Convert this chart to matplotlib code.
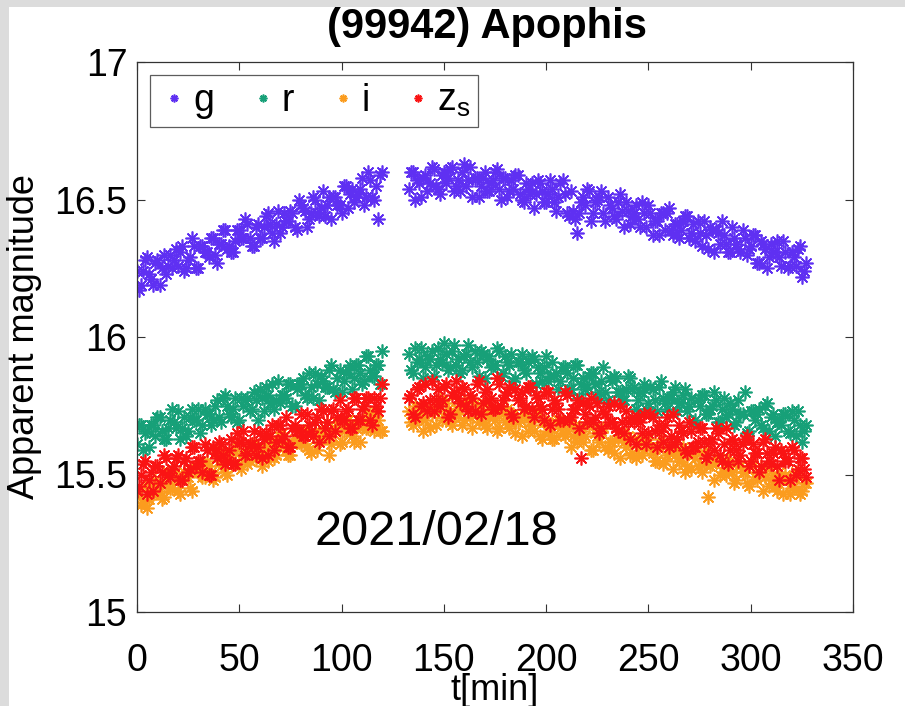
import matplotlib
matplotlib.use("Agg")
import matplotlib.pyplot as plt
from matplotlib.patches import Rectangle

# ---------------- data ----------------
# observation times [min]; two interleaved exposure sequences
t_min = [0, 2, 4, 6, 8, 10, 12, 14, 16, 18, 20, 22, 24, 26, 28, 30, 32, 34, 36, 38,
         40, 42, 44, 46, 48, 50, 52, 54, 56, 58, 60, 62, 64, 66, 68, 70, 72, 74, 76, 78,
         80, 82, 84, 86, 88, 90, 92, 94, 96, 98, 100, 102, 104, 106, 108, 110, 112, 114,
         116, 118, 120,
         133, 135, 137, 139, 141, 143, 145, 147, 149, 151, 153, 155, 157, 159, 161, 163,
         165, 167, 169, 171, 173, 175, 177, 179, 181, 183, 185, 187, 189, 191, 193, 195,
         197, 199, 201, 203, 205, 207, 209, 211, 213, 215, 217, 219, 221, 223, 225, 227,
         229, 231, 233, 235, 237, 239, 241, 243, 245, 247, 249, 251, 253, 255, 257, 259,
         261, 263, 265, 267, 269, 271, 273, 275, 277, 279, 281, 283, 285, 287, 289, 291,
         293, 295, 297, 299, 301, 303, 305, 307, 309, 311, 313, 315, 317, 319, 321, 323,
         325, 327,
         1, 3, 5, 7, 9, 11, 13, 15, 17, 19, 21, 23, 25, 27, 29, 31, 33, 35, 37, 39,
         41, 43, 45, 47, 49, 51, 53, 55, 57, 59, 61, 63, 65, 67, 69, 71, 73, 75, 77, 79,
         81, 83, 85, 87, 89, 91, 93, 95, 97, 99, 101, 103, 105, 107, 109, 111, 113, 115,
         117, 119,
         134, 136, 138, 140, 142, 144, 146, 148, 150, 152, 154, 156, 158, 160, 162, 164,
         166, 168, 170, 172, 174, 176, 178, 180, 182, 184, 186, 188, 190, 192, 194, 196,
         198, 200, 202, 204, 206, 208, 210, 212, 214, 216, 218, 220, 222, 224, 226, 228,
         230, 232, 234, 236, 238, 240, 242, 244, 246, 248, 250, 252, 254, 256, 258, 260,
         262, 264, 266, 268, 270, 272, 274, 276, 278, 280, 282, 284, 286, 288, 290, 292,
         294, 296, 298, 300, 302, 304, 306, 308, 310, 312, 314, 316, 318, 320, 322, 324,
         326]

mag_g = [16.24, 16.19, 16.28, 16.23, 16.19, 16.28, 16.25, 16.23, 16.30, 16.28,
         16.26, 16.33, 16.25, 16.29, 16.33, 16.25, 16.33, 16.31, 16.36, 16.30,
         16.34, 16.39, 16.32, 16.31, 16.35, 16.39, 16.36, 16.41, 16.33, 16.40,
         16.36, 16.40, 16.45, 16.38, 16.41, 16.38, 16.45, 16.42, 16.45, 16.39,
         16.48, 16.46, 16.43, 16.51, 16.45, 16.47, 16.44, 16.51, 16.51, 16.48,
         16.45, 16.55, 16.52, 16.49, 16.52, 16.58, 16.51, 16.57, 16.50, 16.43,
         16.60,
         16.54, 16.60, 16.57, 16.51, 16.59, 16.56, 16.61, 16.54, 16.59, 16.56,
         16.61, 16.53, 16.57, 16.60, 16.55, 16.62, 16.58, 16.51, 16.58, 16.53,
         16.56, 16.60, 16.54, 16.58, 16.51, 16.57, 16.59, 16.52, 16.49, 16.54,
         16.56, 16.52, 16.56, 16.49, 16.52, 16.54, 16.46, 16.56, 16.52, 16.44,
         16.46, 16.38, 16.49, 16.48, 16.53, 16.45, 16.50, 16.53, 16.42, 16.48,
         16.44, 16.49, 16.46, 16.49, 16.41, 16.45, 16.43, 16.49, 16.40, 16.45,
         16.42, 16.37, 16.45, 16.45, 16.39, 16.41, 16.36, 16.42, 16.44, 16.38,
         16.35, 16.38, 16.42, 16.32, 16.39, 16.39, 16.34, 16.37, 16.31, 16.40,
         16.34, 16.31, 16.36, 16.32, 16.37, 16.27, 16.35, 16.32, 16.29, 16.31,
         16.35, 16.26, 16.31, 16.26, 16.29, 16.32, 16.22, 16.27,
         16.17, 16.24, 16.29, 16.21, 16.27, 16.19, 16.30, 16.26, 16.25, 16.32,
         16.31, 16.24, 16.28, 16.36, 16.25, 16.33, 16.31, 16.29, 16.36, 16.27,
         16.34, 16.39, 16.33, 16.31, 16.39, 16.36, 16.43, 16.36, 16.33, 16.41,
         16.36, 16.44, 16.41, 16.35, 16.46, 16.40, 16.42, 16.46, 16.40, 16.50,
         16.47, 16.40, 16.45, 16.50, 16.44, 16.53, 16.48, 16.43, 16.51, 16.48,
         16.55, 16.47, 16.54, 16.51, 16.54, 16.48, 16.60, 16.51, 16.55, 16.59,
         16.60, 16.50, 16.56, 16.58, 16.53, 16.62, 16.55, 16.52, 16.60, 16.58,
         16.62, 16.55, 16.53, 16.63, 16.57, 16.51, 16.58, 16.55, 16.60, 16.53,
         16.57, 16.61, 16.50, 16.58, 16.53, 16.54, 16.59, 16.50, 16.56, 16.52,
         16.47, 16.57, 16.53, 16.49, 16.57, 16.49, 16.51, 16.57, 16.45, 16.53,
         16.43, 16.45, 16.51, 16.54, 16.42, 16.49, 16.51, 16.45, 16.51, 16.47,
         16.43, 16.52, 16.40, 16.46, 16.44, 16.48, 16.40, 16.45, 16.48, 16.37,
         16.42, 16.45, 16.39, 16.47, 16.37, 16.41, 16.39, 16.44, 16.36, 16.41,
         16.42, 16.33, 16.37, 16.40, 16.31, 16.38, 16.42, 16.34, 16.31, 16.36,
         16.32, 16.39, 16.30, 16.33, 16.37, 16.27, 16.34, 16.25, 16.34, 16.31,
         16.29, 16.35, 16.25, 16.31, 16.26, 16.33, 16.24]

mag_r = [15.61, 15.68, 15.65, 15.60, 15.68, 15.71, 15.66, 15.63, 15.70, 15.69,
         15.73, 15.67, 15.64, 15.71, 15.70, 15.74, 15.68, 15.72, 15.68, 15.75,
         15.71, 15.78, 15.75, 15.71, 15.78, 15.70, 15.75, 15.78, 15.74, 15.77,
         15.81, 15.73, 15.79, 15.83, 15.77, 15.76, 15.79, 15.83, 15.75, 15.81,
         15.83, 15.79, 15.87, 15.78, 15.83, 15.86, 15.82, 15.88, 15.81, 15.85,
         15.80, 15.87, 15.90, 15.85, 15.90, 15.83, 15.93, 15.88, 15.86, 15.90,
         15.95,
         15.94, 15.87, 15.91, 15.96, 15.89, 15.92, 15.86, 15.96, 15.91, 15.94,
         15.89, 15.97, 15.92, 15.88, 15.94, 15.91, 15.95, 15.86, 15.94, 15.92,
         15.89, 15.90, 15.95, 15.87, 15.91, 15.94, 15.85, 15.91, 15.88, 15.91,
         15.93, 15.83, 15.87, 15.89, 15.84, 15.91, 15.87, 15.84, 15.89, 15.81,
         15.85, 15.90, 15.83, 15.81, 15.86, 15.87, 15.78, 15.84, 15.80, 15.85,
         15.86, 15.80, 15.77, 15.81, 15.85, 15.82, 15.77, 15.80, 15.74, 15.82,
         15.77, 15.82, 15.78, 15.74, 15.78, 15.82, 15.76, 15.79, 15.73, 15.78,
         15.70, 15.75, 15.79, 15.72, 15.75, 15.77, 15.69, 15.78, 15.72, 15.74,
         15.69, 15.72, 15.80, 15.66, 15.73, 15.72, 15.68, 15.75, 15.66, 15.72,
         15.69, 15.68, 15.72, 15.65, 15.70, 15.73, 15.62, 15.68,
         15.68, 15.59, 15.66, 15.68, 15.64, 15.71, 15.63, 15.67, 15.74, 15.67,
         15.63, 15.71, 15.66, 15.74, 15.70, 15.65, 15.74, 15.72, 15.70, 15.77,
         15.69, 15.79, 15.72, 15.74, 15.69, 15.78, 15.77, 15.73, 15.80, 15.70,
         15.78, 15.82, 15.76, 15.74, 15.84, 15.79, 15.78, 15.83, 15.75, 15.83,
         15.85, 15.78, 15.82, 15.87, 15.77, 15.84, 15.82, 15.90, 15.80, 15.88,
         15.84, 15.88, 15.81, 15.90, 15.87, 15.84, 15.93, 15.86, 15.90, 15.83,
         15.88, 15.96, 15.92, 15.85, 15.93, 15.95, 15.90, 15.92, 15.98, 15.88,
         15.95, 15.90, 15.87, 15.93, 15.97, 15.89, 15.91, 15.95, 15.85, 15.93,
         15.90, 15.96, 15.86, 15.93, 15.90, 15.84, 15.91, 15.94, 15.87, 15.82,
         15.92, 15.89, 15.84, 15.93, 15.86, 15.86, 15.81, 15.89, 15.87, 15.81,
         15.90, 15.78, 15.85, 15.82, 15.87, 15.83, 15.80, 15.89, 15.77, 15.84,
         15.85, 15.80, 15.77, 15.86, 15.81, 15.74, 15.80, 15.83, 15.76, 15.81,
         15.73, 15.84, 15.76, 15.78, 15.80, 15.73, 15.76, 15.81, 15.75, 15.69,
         15.77, 15.79, 15.72, 15.74, 15.80, 15.69, 15.74, 15.71, 15.76, 15.68,
         15.77, 15.72, 15.65, 15.73, 15.70, 15.74, 15.67, 15.76, 15.71, 15.64,
         15.69, 15.72, 15.66, 15.73, 15.64, 15.68, 15.66]

mag_i = [15.42, 15.39, 15.46, 15.41, 15.43, 15.47, 15.41, 15.47, 15.45, 15.50,
         15.44, 15.48, 15.50, 15.45, 15.52, 15.51, 15.49, 15.55, 15.51, 15.49,
         15.55, 15.58, 15.50, 15.55, 15.58, 15.54, 15.57, 15.54, 15.61, 15.56,
         15.58, 15.60, 15.55, 15.62, 15.57, 15.64, 15.61, 15.57, 15.61, 15.63,
         15.61, 15.66, 15.59, 15.64, 15.59, 15.65, 15.67, 15.57, 15.65, 15.69,
         15.62, 15.67, 15.68, 15.62, 15.70, 15.67, 15.67, 15.72, 15.66, 15.70,
         15.66,
         15.73, 15.68, 15.71, 15.75, 15.70, 15.67, 15.74, 15.73, 15.70, 15.76,
         15.69, 15.72, 15.74, 15.68, 15.75, 15.71, 15.76, 15.69, 15.72, 15.67,
         15.74, 15.70, 15.67, 15.72, 15.74, 15.69, 15.65, 15.70, 15.72, 15.66,
         15.68, 15.72, 15.64, 15.69, 15.66, 15.63, 15.69, 15.67, 15.64, 15.69,
         15.64, 15.62, 15.66, 15.64, 15.68, 15.59, 15.64, 15.66, 15.60, 15.62,
         15.58, 15.63, 15.65, 15.60, 15.57, 15.63, 15.60, 15.57, 15.63, 15.60,
         15.55, 15.60, 15.54, 15.57, 15.60, 15.57, 15.55, 15.60, 15.53, 15.52,
         15.56, 15.58, 15.54, 15.42, 15.54, 15.56, 15.50, 15.51, 15.56, 15.51,
         15.48, 15.53, 15.51, 15.46, 15.53, 15.48, 15.53, 15.49, 15.46, 15.50,
         15.44, 15.48, 15.50, 15.43, 15.46, 15.50, 15.44, 15.47,
         15.44, 15.40, 15.38, 15.44, 15.48, 15.44, 15.42, 15.51, 15.45, 15.49,
         15.43, 15.51, 15.49, 15.44, 15.52, 15.54, 15.49, 15.53, 15.48, 15.58,
         15.53, 15.51, 15.58, 15.54, 15.61, 15.52, 15.58, 15.55, 15.61, 15.58,
         15.53, 15.60, 15.62, 15.56, 15.60, 15.65, 15.59, 15.57, 15.63, 15.62,
         15.66, 15.60, 15.58, 15.66, 15.63, 15.63, 15.69, 15.61, 15.67, 15.61,
         15.66, 15.70, 15.64, 15.67, 15.62, 15.70, 15.67, 15.70, 15.73, 15.66,
         15.69, 15.75, 15.71, 15.66, 15.74, 15.72, 15.68, 15.77, 15.71, 15.74,
         15.68, 15.72, 15.75, 15.70, 15.77, 15.67, 15.72, 15.75, 15.68, 15.71,
         15.73, 15.66, 15.75, 15.69, 15.67, 15.72, 15.69, 15.64, 15.72, 15.69,
         15.66, 15.73, 15.63, 15.69, 15.67, 15.63, 15.70, 15.65, 15.66, 15.60,
         15.68, 15.64, 15.62, 15.69, 15.59, 15.65, 15.62, 15.67, 15.59, 15.62,
         15.67, 15.56, 15.62, 15.64, 15.58, 15.56, 15.62, 15.59, 15.63, 15.58,
         15.55, 15.63, 15.55, 15.58, 15.52, 15.59, 15.56, 15.51, 15.59, 15.57,
         15.53, 15.51, 15.59, 15.53, 15.48, 15.55, 15.55, 15.50, 15.53, 15.47,
         15.55, 15.51, 15.47, 15.55, 15.49, 15.51, 15.44, 15.52, 15.48, 15.46,
         15.51, 15.43, 15.48, 15.45, 15.51, 15.43, 15.47]

mag_zs = [15.44, 15.50, 15.55, 15.48, 15.44, 15.53, 15.51, 15.56, 15.49, 15.53,
          15.57, 15.48, 15.56, 15.52, 15.60, 15.55, 15.51, 15.59, 15.50, 15.58,
          15.62, 15.57, 15.55, 15.63, 15.54, 15.62, 15.66, 15.58, 15.61, 15.57,
          15.65, 15.63, 15.57, 15.68, 15.62, 15.68, 15.64, 15.60, 15.67, 15.66,
          15.72, 15.64, 15.68, 15.64, 15.71, 15.74, 15.67, 15.64, 15.74, 15.71,
          15.70, 15.73, 15.67, 15.78, 15.70, 15.74, 15.78, 15.70, 15.78, 15.73,
          15.83,
          15.78, 15.72, 15.81, 15.75, 15.83, 15.77, 15.73, 15.81, 15.77, 15.83,
          15.72, 15.80, 15.78, 15.82, 15.75, 15.79, 15.73, 15.84, 15.76, 15.81,
          15.78, 15.74, 15.83, 15.77, 15.80, 15.72, 15.81, 15.78, 15.74, 15.82,
          15.74, 15.79, 15.75, 15.70, 15.80, 15.74, 15.76, 15.70, 15.80, 15.70,
          15.74, 15.77, 15.56, 15.72, 15.75, 15.69, 15.76, 15.67, 15.72, 15.69,
          15.76, 15.66, 15.69, 15.73, 15.63, 15.69, 15.71, 15.65, 15.61, 15.72,
          15.66, 15.68, 15.62, 15.71, 15.64, 15.61, 15.68, 15.65, 15.58, 15.66,
          15.60, 15.67, 15.62, 15.57, 15.63, 15.67, 15.57, 15.61, 15.54, 15.63,
          15.59, 15.57, 15.63, 15.53, 15.61, 15.58, 15.53, 15.63, 15.55, 15.58,
          15.53, 15.59, 15.55, 15.48, 15.59, 15.52, 15.56, 15.49,
          15.46, 15.54, 15.43, 15.51, 15.53, 15.47, 15.57, 15.50, 15.52, 15.56,
          15.48, 15.55, 15.51, 15.60, 15.53, 15.55, 15.61, 15.50, 15.60, 15.56,
          15.61, 15.54, 15.59, 15.54, 15.65, 15.62, 15.57, 15.61, 15.66, 15.60,
          15.56, 15.65, 15.64, 15.59, 15.68, 15.63, 15.71, 15.60, 15.68, 15.66,
          15.64, 15.72, 15.66, 15.69, 15.62, 15.73, 15.69, 15.73, 15.66, 15.77,
          15.70, 15.74, 15.67, 15.78, 15.70, 15.75, 15.78, 15.68, 15.75, 15.78,
          15.79, 15.71, 15.82, 15.76, 15.73, 15.84, 15.77, 15.75, 15.82, 15.71,
          15.79, 15.84, 15.76, 15.81, 15.73, 15.78, 15.83, 15.72, 15.80, 15.77,
          15.74, 15.85, 15.75, 15.79, 15.82, 15.71, 15.77, 15.80, 15.75, 15.82,
          15.71, 15.78, 15.74, 15.80, 15.68, 15.77, 15.74, 15.70, 15.79, 15.71,
          15.74, 15.67, 15.76, 15.69, 15.78, 15.71, 15.65, 15.73, 15.75, 15.69,
          15.67, 15.75, 15.65, 15.69, 15.71, 15.61, 15.69, 15.72, 15.65, 15.71,
          15.60, 15.66, 15.68, 15.60, 15.72, 15.63, 15.66, 15.59, 15.69, 15.60,
          15.62, 15.67, 15.56, 15.62, 15.59, 15.65, 15.55, 15.67, 15.59, 15.62,
          15.55, 15.61, 15.64, 15.55, 15.58, 15.51, 15.62, 15.58, 15.54, 15.60,
          15.48, 15.58, 15.55, 15.60, 15.50, 15.56, 15.52]

filters = ["g", "r", "i", "z_s"]
x_ticks = [0, 50, 100, 150, 200, 250, 300, 350]
y_ticks = [15, 15.5, 16, 16.5, 17]
y_tick_labels = ["15", "15.5", "16", "16.5", "17"]

# ---------------- style ----------------
plt.rcParams["font.family"] = ["Liberation Sans", "DejaVu Sans"]

colors = {"g": "#5f30f2", "r": "#17a078", "i": "#fb9c1e", "z_s": "#fa1414"}
labels = {"g": "g", "r": "r", "i": "i", "z_s": r"z$_\mathregular{s}$"}
series = {"g": mag_g, "r": mag_r, "i": mag_i, "z_s": mag_zs}

fig = plt.figure(figsize=(9.05, 7.06), dpi=100)
fig.patch.set_facecolor("#dcdcdc")
fig.add_artist(Rectangle((9 / 905, 0), 1, 1 - 7 / 706, transform=fig.transFigure,
                         facecolor="white", edgecolor="none", zorder=-5))

ax = fig.add_axes([137 / 905, 1 - 612 / 706, 716 / 905, 550 / 706])
ax.set_facecolor("white")

handles = []
for f in filters:
    h, = ax.plot(t_min, series[f], linestyle="none", marker=(8, 2, 0), markersize=10,
                 markeredgewidth=1.2, color=colors[f], label=labels[f])
    handles.append(h)

ax.set_xlim(0, 350)
ax.set_ylim(15, 17)
ax.set_xticks(x_ticks)
ax.set_xticklabels([str(v) for v in x_ticks], fontsize=27)
ax.set_yticks(y_ticks)
ax.set_yticklabels(y_tick_labels, fontsize=27)
ax.tick_params(axis="both", direction="in", length=6, width=0.8, color="#333333",
               top=True, right=True)
ax.tick_params(axis="x", pad=22)
ax.tick_params(axis="y", pad=7)
for s in ax.spines.values():
    s.set_color("#333333")
    s.set_linewidth(0.9)

ax.set_xlabel("t[min]", fontsize=26, va="center")
ax.xaxis.set_label_coords(0.5, (612 - 690) / 550)
ax.set_ylabel("Apparent magnitude", fontsize=26, va="center")
ax.yaxis.set_label_coords((25 - 137) / 716, 0.5)

fig.text(487 / 905, 1 - 27 / 706, "(99942) Apophis", ha="center", va="center",
         fontsize=30, fontweight="bold")

ax.text(146.2, 15.29, "2021/02/18", ha="center", va="center", fontsize=35)

leg = ax.legend(handles=handles, loc="upper left", bbox_to_anchor=(0.018, 0.976),
                ncol=4, fontsize=27, markerscale=0.56, handlelength=0.9,
                handletextpad=0.05, columnspacing=0.85, borderaxespad=0,
                borderpad=0.2, fancybox=False, frameon=True)
leg.get_frame().set_edgecolor("#333333")
leg.get_frame().set_linewidth(0.9)

fig.savefig("out.png", dpi=100, facecolor=fig.get_facecolor())
